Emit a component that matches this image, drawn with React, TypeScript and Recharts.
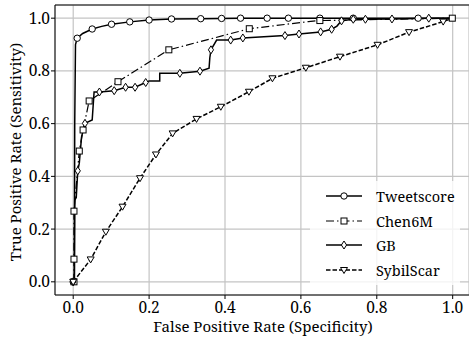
import React from "react";
import { LineChart, Line, XAxis, YAxis, CartesianGrid, ReferenceLine, Label } from "recharts";

// ROC curves
const tweetX = [0, 0.003, 0.004, 0.006, 0.0105, 0.025, 0.05, 0.075, 0.101, 0.149, 0.2, 0.259, 0.336, 0.391, 0.441, 0.511, 0.567, 0.65, 0.738, 0.909, 1.0];
const tweetY = [0, 0.0, 0.6, 0.9, 0.924, 0.942, 0.959, 0.969, 0.977, 0.986, 0.993, 0.997, 0.998, 0.999, 1.0, 1.0, 1.0, 1.0, 1.0, 1.0, 1.0];
const tweetMarks = [0, 4, 6, 8, 9, 10, 11, 12, 13, 14, 15, 16, 17, 18, 19];

const chenX = [0.002, 0.002, 0.002, 0.016, 0.026, 0.042, 0.118, 0.252, 0.464, 0.62, 0.65, 0.999];
const chenY = [0.0, 0.086, 0.268, 0.496, 0.576, 0.686, 0.759, 0.88, 0.96, 0.987, 0.991, 1.0];
const chenMarks = [0, 1, 2, 3, 4, 5, 6, 7, 8, 10, 11];

const gbX = [0, 0.003, 0.004, 0.008, 0.012, 0.016, 0.022, 0.031, 0.05, 0.055, 0.069, 0.108, 0.138, 0.163, 0.191, 0.2, 0.228, 0.228, 0.281, 0.334, 0.358, 0.36, 0.363, 0.378, 0.415, 0.447, 0.558, 0.595, 0.652, 0.681, 0.695, 0.707, 0.738, 0.77, 0.84, 0.937, 1.0];
const gbY = [0, 0.0, 0.31, 0.32, 0.421, 0.45, 0.55, 0.601, 0.614, 0.72, 0.72, 0.725, 0.738, 0.738, 0.756, 0.762, 0.762, 0.791, 0.791, 0.799, 0.81, 0.85, 0.88, 0.917, 0.917, 0.925, 0.934, 0.94, 0.948, 0.958, 0.97, 0.99, 0.996, 0.996, 0.997, 1.0, 1.0];
const gbMarks = [0, 4, 7, 10, 11, 12, 13, 14, 18, 19, 22, 24, 25, 26, 27, 28, 29, 31, 32, 33, 34, 35];

const sybilX = [0, 0.046, 0.086, 0.13, 0.176, 0.218, 0.262, 0.325, 0.389, 0.463, 0.525, 0.613, 0.703, 0.802, 0.885, 0.975, 1.0];
const sybilY = [0, 0.085, 0.19, 0.285, 0.393, 0.483, 0.563, 0.618, 0.664, 0.721, 0.772, 0.812, 0.854, 0.899, 0.947, 0.987, 1.0];
const sybilMarks = [0, 1, 2, 3, 4, 5, 6, 7, 8, 9, 10, 11, 12, 13, 14, 15];

const ticks = [0, 0.2, 0.4, 0.6, 0.8, 1.0];

const FONT = "Noto Serif, DejaVu Serif";

function toPoints(xs: number[], ys: number[], marks: number[]) {
  return xs.map((x, i) => ({ x, y: ys[i], m: marks.includes(i) }));
}

function Marker({ kind, cx, cy }: { kind: string; cx: number; cy: number }) {
  const p = { fill: "white", stroke: "black", strokeWidth: 1 };
  if (kind === "circle") return <circle cx={cx} cy={cy} r={3.2} {...p} />;
  if (kind === "square") return <rect x={cx - 3} y={cy - 3} width={6} height={6} {...p} />;
  if (kind === "diamond")
    return <polygon points={`${cx},${cy - 4} ${cx + 2.6},${cy} ${cx},${cy + 4} ${cx - 2.6},${cy}`} {...p} />;
  return <polygon points={`${cx - 3.5},${cy - 2.5} ${cx + 3.5},${cy - 2.5} ${cx},${cy + 3.5}`} {...p} />;
}

const series = [
  { name: "Tweetscore", data: toPoints(tweetX, tweetY, tweetMarks), marker: "circle", dash: undefined, width: 1.5 },
  { name: "Chen6M", data: toPoints(chenX, chenY, chenMarks), marker: "square", dash: "8 3 1.5 3", width: 1.2 },
  { name: "GB", data: toPoints(gbX, gbY, gbMarks), marker: "diamond", dash: undefined, width: 1.5 },
  { name: "SybilScar", data: toPoints(sybilX, sybilY, sybilMarks), marker: "triangle", dash: "4.5 2", width: 1.5 },
];

function XTick({ x, y, payload }: any) {
  return (
    <text x={x} y={y + 11.5} textAnchor="middle" fontFamily={FONT} fontSize={15.5} fill="black">
      {payload.value.toFixed(1)}
    </text>
  );
}

function YTick({ x, y, payload }: any) {
  return (
    <text x={x} y={y + 5.5} textAnchor="end" fontFamily={FONT} fontSize={15.5} fill="black">
      {payload.value.toFixed(1)}
    </text>
  );
}

function LegendBox() {
  return (
    <div
      style={{
        position: "absolute",
        left: 310,
        top: 181,
        width: 150,
        padding: "3px 0",
        background: "rgba(255,255,255,0.8)",
        fontFamily: FONT,
        fontSize: 14.5,
        lineHeight: "18px",
      }}
    >
      {series.map((s) => (
        <div key={s.name} style={{ display: "flex", alignItems: "center", height: 24.6 }}>
          <svg width={66} height={12} style={{ flex: "none" }}>
            <line x1={16} y1={6} x2={52} y2={6} stroke="black" strokeWidth={s.width} strokeDasharray={s.dash} />
            <Marker kind={s.marker} cx={34} cy={6} />
          </svg>
          <span>{s.name}</span>
        </div>
      ))}
    </div>
  );
}

export default function App() {
  return (
    <div style={{ position: "absolute", left: 0, top: 0, width: 469, height: 341, background: "white" }}>
      <LineChart width={469} height={341} margin={{ top: 5, right: 0, bottom: 0, left: 0 }}>
        <CartesianGrid stroke="#c4c4c4" strokeWidth={1.2} />
        <XAxis
          type="number"
          dataKey="x"
          domain={[-0.048, 1.043]}
          ticks={ticks}
          allowDataOverflow
          height={46}
          tick={<XTick />}
          tickSize={4}
          tickMargin={2}
          stroke="black"
        >
          <Label
            content={() => (
              <text x={263} y={332} textAnchor="middle" fontFamily={FONT} fontSize={15} fill="black">
                False Positive Rate (Specificity)
              </text>
            )}
          />
        </XAxis>
        <YAxis
          type="number"
          domain={[-0.05, 1.05]}
          ticks={ticks}
          allowDataOverflow
          width={55}
          tick={<YTick />}
          tickSize={4}
          tickMargin={1}
          stroke="black"
        >
          <Label
            content={() => (
              <text
                x={21}
                y={152}
                textAnchor="middle"
                transform="rotate(-90, 21, 152)"
                fontFamily={FONT}
                fontSize={15}
                fill="black"
              >
                True Positive Rate (Sensitivity)
              </text>
            )}
          />
        </YAxis>
        <ReferenceLine y={1.05} stroke="black" strokeWidth={1} />
        {series.map((s) => (
          <Line
            key={s.name}
            data={s.data}
            dataKey="y"
            name={s.name}
            type="linear"
            stroke="black"
            strokeWidth={s.width}
            strokeDasharray={s.dash}
            isAnimationActive={false}
            dot={(props: any) =>
              props.payload.m ? (
                <Marker key={`${s.name}-${props.index}`} kind={s.marker} cx={props.cx} cy={props.cy} />
              ) : (
                <g key={`${s.name}-${props.index}`} />
              )
            }
            activeDot={false}
          />
        ))}
      </LineChart>
      <LegendBox />
    </div>
  );
}
